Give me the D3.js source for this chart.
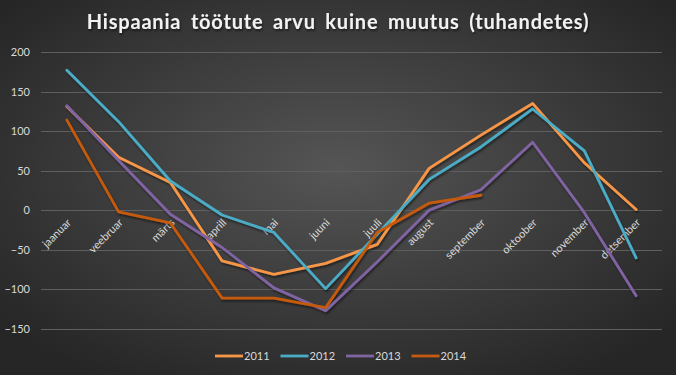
<!DOCTYPE html>
<html>
<head>
<meta charset="utf-8">
<script src="https://cdn.jsdelivr.net/npm/d3@7"></script>
<style>
  body { margin: 0; background: #2a2a2a; }
  svg { display: block; font-family: Lato, "Open Sans", sans-serif; }
</style>
</head>
<body>
<div id="chart"></div>
<script>
const months = ["jaanuar", "veebruar", "märts", "aprill", "mai", "juuni", "juuli",
  "august", "september", "oktoober", "november", "detsember"];
const years = ["2011", "2012", "2013", "2014"];
const v2011 = [131, 67, 35, -64, -81, -67, -43, 53, 95, 135, 60, 1];
const v2012 = [177, 112, 37, -6, -28, -99, -30, 39, 80, 128, 75, -60];
const v2013 = [132, 63, -5, -47, -98, -127, -65, 0, 26, 86, -3, -108];
const v2014 = [114, -2, -16, -111, -111, -123, -28, 9, 19];
const yTicks = [-150, -100, -50, 0, 50, 100, 150, 200];
const colors = ["#f79646", "#4bacc6", "#8064a2", "#c55a11"];

const W = 676, H = 375;
const margin = { top: 52, right: 14, bottom: 46, left: 41 };
const xMax = W - margin.left - margin.right;

const svg = d3.select("#chart").append("svg")
  .attr("width", W).attr("height", H);

// background
const defs = svg.append("defs");
const grad = defs.append("radialGradient").attr("id", "bg")
  .attr("cx", "50%").attr("cy", "45%").attr("r", "65%");
grad.append("stop").attr("offset", "0%").attr("stop-color", "#555555");
grad.append("stop").attr("offset", "100%").attr("stop-color", "#262626");
const shadow = defs.append("filter").attr("id", "sh")
  .attr("x", "-10%").attr("y", "-10%").attr("width", "120%").attr("height", "130%");
shadow.append("feDropShadow").attr("dx", 1).attr("dy", 2).attr("stdDeviation", 1.2)
  .attr("flood-color", "#000").attr("flood-opacity", 0.5);
svg.append("rect").attr("width", W).attr("height", H).attr("fill", "url(#bg)");

// title
svg.append("text")
  .attr("x", 338).attr("y", 29)
  .attr("text-anchor", "middle")
  .attr("fill", "#f2f2f2")
  .attr("font-size", 20).attr("font-weight", "bold")
  .attr("letter-spacing", 0.8).attr("word-spacing", 4)
  .attr("filter", "url(#sh)")
  .text("Hispaania töötute arvu kuine muutus (tuhandetes)");

const g = svg.append("g").attr("transform", "translate(" + margin.left + "," + 0 + ")");

// X scale
const x = d3.scaleBand().domain(months).range([0, xMax]);
const xc = function (m) { return x(m) + x.bandwidth() / 2; };

// Y scale
const y = d3.scaleLinear().domain([-150, 200]).range([329, 52]);

// grid
g.append("g").selectAll("line").data(yTicks).enter().append("line")
  .attr("x1", 0).attr("x2", xMax)
  .attr("y1", function (d) { return Math.round(y(d)) + 0.5; })
  .attr("y2", function (d) { return Math.round(y(d)) + 0.5; })
  .attr("stroke", "#5f5f5f").attr("stroke-width", 1);

// Y axis
const yAxis = g.append("g").call(d3.axisLeft(y).tickValues(yTicks).tickSize(0).tickPadding(11));
yAxis.select(".domain").remove();
yAxis.selectAll("text").attr("fill", "#d9d9d9").attr("font-size", 11)
  .attr("font-family", "Lato, sans-serif");

// X labels
g.append("g").selectAll("text").data(months).enter().append("text")
  .attr("transform", function (d) { return "translate(" + (xc(d) + 5) + "," + (y(0) + 13) + ") rotate(-45)"; })
  .attr("text-anchor", "end")
  .attr("fill", "#d9d9d9").attr("font-size", 11)
  .text(function (d) { return d; });

// lines
const series = [v2011, v2012, v2013, v2014];
const line = d3.line()
  .x(function (d, i) { return xc(months[i]); })
  .y(function (d) { return y(d); });

g.append("g").attr("filter", "url(#sh)").selectAll("path").data(series).enter().append("path")
  .attr("d", function (d) { return line(d); })
  .attr("fill", "none")
  .attr("stroke", function (d, i) { return colors[i]; })
  .attr("stroke-width", 2.8)
  .attr("stroke-linejoin", "round")
  .attr("stroke-linecap", "round");

// legend
const legend = svg.append("g").attr("transform", "translate(215,356)");
const lg = legend.selectAll("g").data(years).enter().append("g")
  .attr("transform", function (d, i) { return "translate(" + (i * 65.5) + ",0)"; });
lg.append("line").attr("x1", 0).attr("x2", 28).attr("y1", 0).attr("y2", 0)
  .attr("stroke", function (d, i) { return colors[i]; }).attr("stroke-width", 2.8);
lg.append("text").attr("x", 29).attr("y", 4)
  .attr("fill", "#d9d9d9").attr("font-size", 11)
  .text(function (d) { return d; });
</script>
</body>
</html>
